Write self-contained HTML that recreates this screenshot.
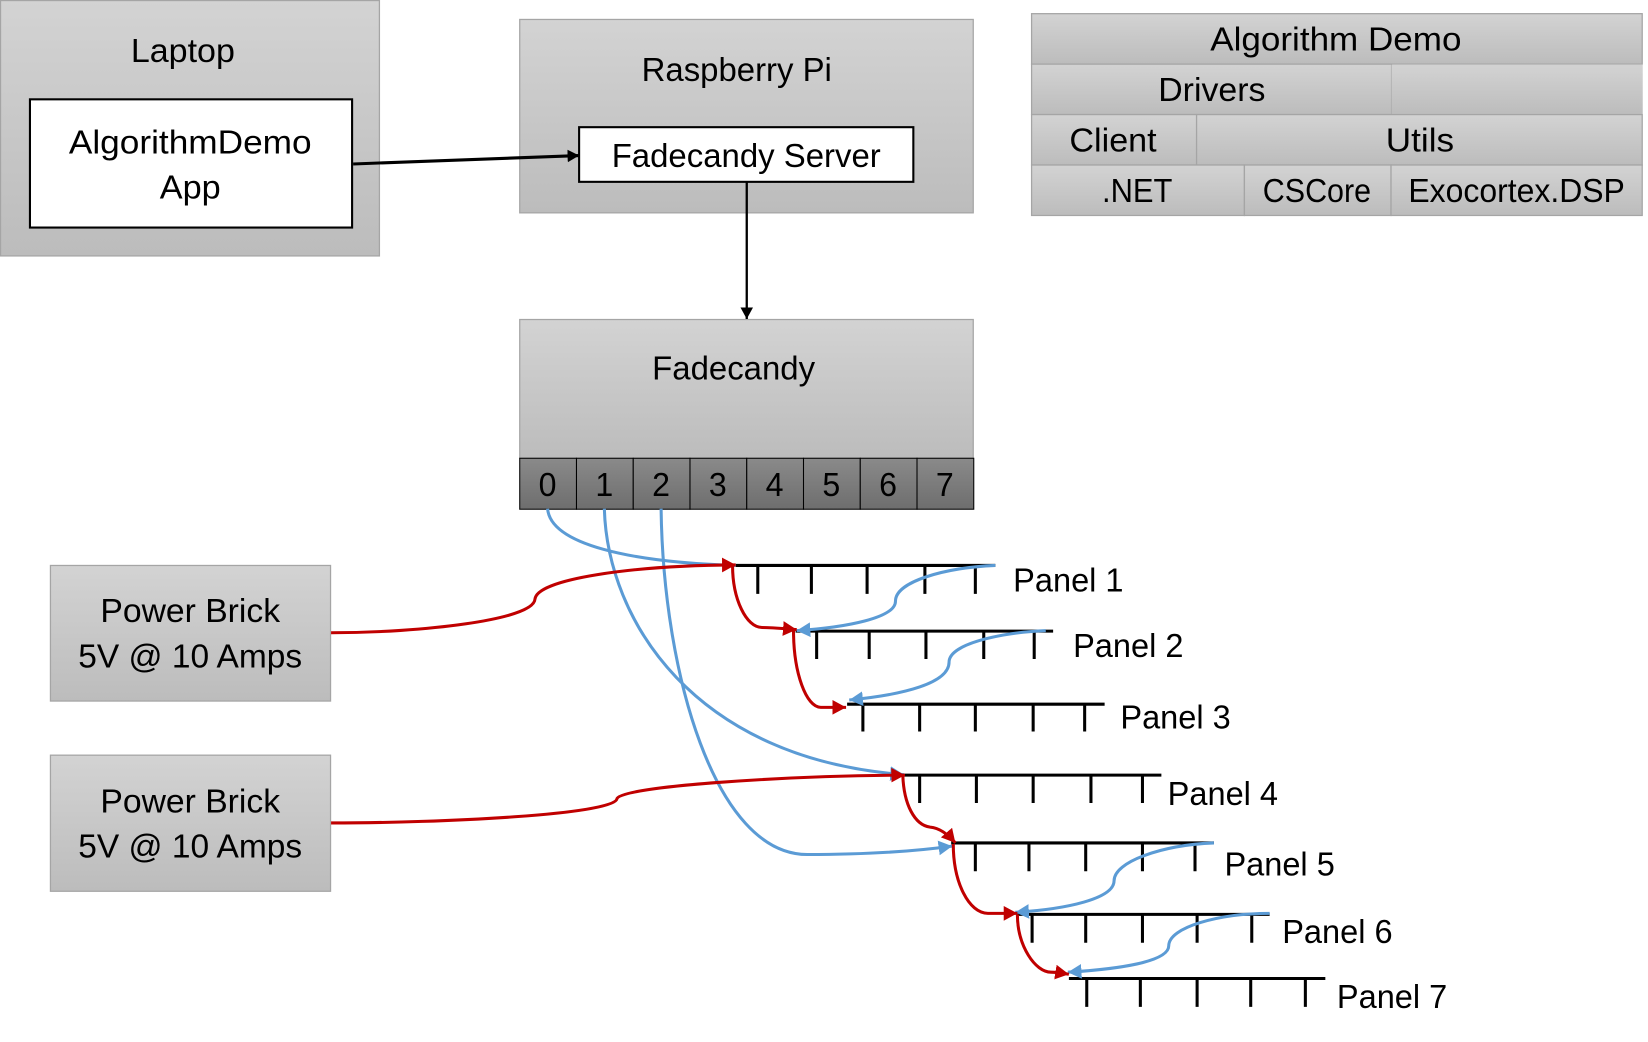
<!DOCTYPE html>
<html><head><meta charset="utf-8"><style>
html,body{margin:0;padding:0;background:#fff;width:1648px;height:1042px;overflow:hidden}
svg{display:block}
text{font-family:"Liberation Sans",sans-serif;font-size:32px;fill:#000}
.m{text-anchor:middle}
.b{fill:url(#g);stroke:#a5a5a5;stroke-width:1.2}
.p{fill:url(#d);stroke:#000;stroke-width:1}
.w{fill:#fff;stroke:#000;stroke-width:2}
.t{fill:none;stroke:#000;stroke-width:2.9}
.bl{fill:none;stroke:#5b9bd5;stroke-width:2.9}
.r{fill:none;stroke:#c00000;stroke-width:2.9}
</style></head><body>
<svg xmlns="http://www.w3.org/2000/svg" width="1648" height="1042" viewBox="0 0 1568 991.4">
<defs>
<linearGradient id="g" x1="0" y1="0" x2="0" y2="1"><stop offset="0" stop-color="#d3d3d3"/><stop offset="1" stop-color="#bcbcbc"/></linearGradient>
<linearGradient id="d" x1="0" y1="0" x2="0" y2="1"><stop offset="0" stop-color="#8a8a8a"/><stop offset="1" stop-color="#6e6e6e"/></linearGradient>
<marker id="ak" markerUnits="userSpaceOnUse" markerWidth="13" markerHeight="13" refX="11" refY="6" orient="auto"><path d="M0 0L11 6L0 12z" fill="#000"/></marker>
<marker id="ab" markerUnits="userSpaceOnUse" markerWidth="15" markerHeight="15" refX="13" refY="7" orient="auto"><path d="M0 0L13 7L0 14z" fill="#5b9bd5"/></marker>
<marker id="ar" markerUnits="userSpaceOnUse" markerWidth="15" markerHeight="15" refX="13" refY="7" orient="auto"><path d="M0 0L13 7L0 14z" fill="#c00000"/></marker>
</defs>

<rect class="b" x="0.5" y="0.5" width="360.5" height="243"/>
<text class="m" x="174" y="59" textLength="99" lengthAdjust="spacingAndGlyphs">Laptop</text>
<rect class="w" x="28.5" y="94.5" width="306.5" height="122"/>
<text class="m" x="181" y="146" textLength="231" lengthAdjust="spacingAndGlyphs">AlgorithmDemo</text>
<text class="m" x="181" y="189" textLength="58" lengthAdjust="spacingAndGlyphs">App</text>

<rect class="b" x="494.5" y="18.5" width="431.5" height="184"/>
<text class="m" x="701" y="77" textLength="181" lengthAdjust="spacingAndGlyphs">Raspberry Pi</text>
<rect class="w" x="551" y="121" width="318" height="52"/>
<text class="m" x="710" y="159" textLength="256" lengthAdjust="spacingAndGlyphs">Fadecandy Server</text>

<rect class="b" x="494.5" y="304" width="431.5" height="132"/>
<text class="m" x="698" y="361" textLength="155" lengthAdjust="spacingAndGlyphs">Fadecandy</text>
<g>
<rect class="p" x="494.5" y="436" width="54" height="48.5"/>
<rect class="p" x="548.5" y="436" width="54" height="48.5"/>
<rect class="p" x="602.5" y="436" width="54" height="48.5"/>
<rect class="p" x="656.5" y="436" width="54" height="48.5"/>
<rect class="p" x="710.5" y="436" width="54" height="48.5"/>
<rect class="p" x="764.5" y="436" width="54" height="48.5"/>
<rect class="p" x="818.5" y="436" width="54" height="48.5"/>
<rect class="p" x="872.5" y="436" width="54" height="48.5"/>
</g>
<text class="m" x="521" y="472" textLength="17" lengthAdjust="spacingAndGlyphs">0</text>
<text class="m" x="575" y="472" textLength="17" lengthAdjust="spacingAndGlyphs">1</text>
<text class="m" x="629" y="472" textLength="17" lengthAdjust="spacingAndGlyphs">2</text>
<text class="m" x="683" y="472" textLength="17" lengthAdjust="spacingAndGlyphs">3</text>
<text class="m" x="737" y="472" textLength="17" lengthAdjust="spacingAndGlyphs">4</text>
<text class="m" x="791" y="472" textLength="17" lengthAdjust="spacingAndGlyphs">5</text>
<text class="m" x="845" y="472" textLength="17" lengthAdjust="spacingAndGlyphs">6</text>
<text class="m" x="899" y="472" textLength="17" lengthAdjust="spacingAndGlyphs">7</text>

<rect class="b" x="981.5" y="13" width="581" height="48"/>
<rect class="b" x="981.5" y="61" width="342.5" height="48"/>
<rect x="1324" y="61.6" width="239" height="47.4" fill="url(#g)"/>
<rect class="b" x="981.5" y="109" width="157" height="48"/>
<rect class="b" x="1138.5" y="109" width="424" height="48"/>
<rect class="b" x="981.5" y="157" width="202.5" height="48"/>
<rect class="b" x="1184" y="157" width="139.5" height="48"/>
<rect class="b" x="1323.5" y="157" width="239" height="48"/>
<text class="m" x="1271" y="48" textLength="239" lengthAdjust="spacingAndGlyphs">Algorithm Demo</text>
<text class="m" x="1153" y="96" textLength="102" lengthAdjust="spacingAndGlyphs">Drivers</text>
<text class="m" x="1059" y="144" textLength="83" lengthAdjust="spacingAndGlyphs">Client</text>
<text class="m" x="1351" y="144" textLength="65" lengthAdjust="spacingAndGlyphs">Utils</text>
<text class="m" x="1082" y="192" textLength="67" lengthAdjust="spacingAndGlyphs">.NET</text>
<text class="m" x="1253" y="192" textLength="103" lengthAdjust="spacingAndGlyphs">CSCore</text>
<text class="m" x="1443" y="192" textLength="206" lengthAdjust="spacingAndGlyphs">Exocortex.DSP</text>

<rect class="b" x="48" y="538" width="266.5" height="129"/>
<text class="m" x="181" y="592" textLength="171" lengthAdjust="spacingAndGlyphs">Power Brick</text>
<text class="m" x="181" y="635" textLength="213" lengthAdjust="spacingAndGlyphs">5V @ 10 Amps</text>
<rect class="b" x="48" y="718.5" width="266.5" height="129.5"/>
<text class="m" x="181" y="773" textLength="171" lengthAdjust="spacingAndGlyphs">Power Brick</text>
<text class="m" x="181" y="816" textLength="213" lengthAdjust="spacingAndGlyphs">5V @ 10 Amps</text>

<path d="M336 156L551 148" fill="none" stroke="#000" stroke-width="2.9" marker-end="url(#ak)"/>
<path d="M710.5 173L710.5 303.5" fill="none" stroke="#000" stroke-width="2.2" marker-end="url(#ak)"/>

<path class="t" d="M700 538H947M721 538V565M772 538V565M825 538V565M880 538V565M928 538V565"/>
<path class="t" d="M757 600.5H1002M777 600V627M827 600V627M881 600V627M936 600V627M984 600V627"/>
<path class="t" d="M806 670H1051M821 670V696M875 670V696M928 670V696M983 670V696M1032 670V696"/>
<path class="t" d="M858 737.5H1105M875 737V764M929 737V764M983 737V764M1038 737V764M1087 737V764"/>
<path class="t" d="M905 802H1155M928 802V829M979 802V829M1033 802V829M1087 802V829M1137 802V829"/>
<path class="t" d="M968 870H1208M982 870V897M1033 870V897M1087 870V897M1139 870V897M1191 870V897"/>
<path class="t" d="M1017 931H1261M1034 931V958M1085 931V958M1139 931V958M1190 931V958M1242 931V958"/>

<text x="964" y="563" textLength="105" lengthAdjust="spacingAndGlyphs">Panel 1</text>
<text x="1021" y="625" textLength="105" lengthAdjust="spacingAndGlyphs">Panel 2</text>
<text x="1066" y="693" textLength="105" lengthAdjust="spacingAndGlyphs">Panel 3</text>
<text x="1111" y="766" textLength="105" lengthAdjust="spacingAndGlyphs">Panel 4</text>
<text x="1165" y="833" textLength="105" lengthAdjust="spacingAndGlyphs">Panel 5</text>
<text x="1220" y="897" textLength="105" lengthAdjust="spacingAndGlyphs">Panel 6</text>
<text x="1272" y="959" textLength="105" lengthAdjust="spacingAndGlyphs">Panel 7</text>

<path class="bl" d="M521 484C524 518 600 535 700 538"/>
<path class="bl" d="M575 484C578 590 660 722 860 737" marker-end="url(#ab)"/>
<path class="bl" d="M629 484C631 640 680 813 768 813C820 813 870 810 906 805" marker-end="url(#ab)"/>
<path class="bl" d="M947 538C900 540 852 553 852 572C852 588 805 597 758 600" marker-end="url(#ab)"/>
<path class="bl" d="M995 600C950 602 903 613 903 630C903 650 860 661 808 666" marker-end="url(#ab)"/>
<path class="bl" d="M1155 802C1105 804 1060 820 1060 838C1060 855 1015 865 966 868" marker-end="url(#ab)"/>
<path class="bl" d="M1208 869C1160 869 1112 882 1112 900C1112 915 1065 922 1016 925" marker-end="url(#ab)"/>

<path class="r" d="M315 602C400 602 508 590 509 570C511 551 600 538 700 537.5" marker-end="url(#ar)"/>
<path class="r" d="M315 783C420 783 585 775 587 760C590 748 750 738 861 737.5" marker-end="url(#ar)"/>
<path class="r" d="M697 538C697 570 710 597 725 597C735 597 745 598 758 599" marker-end="url(#ar)"/>
<path class="r" d="M755 600C755 640 767 673 781 673C790 673 797 673 805 673" marker-end="url(#ar)"/>
<path class="r" d="M859 738C860 765 870 785 885 787C895 788 903 795 909 802" marker-end="url(#ar)"/>
<path class="r" d="M907 803C907 840 922 869 940 869C950 869 958 869 968 869" marker-end="url(#ar)"/>
<path class="r" d="M968 870C968 900 985 925 1000 925C1006 925 1011 926 1017 927" marker-end="url(#ar)"/>
</svg>
</body></html>
